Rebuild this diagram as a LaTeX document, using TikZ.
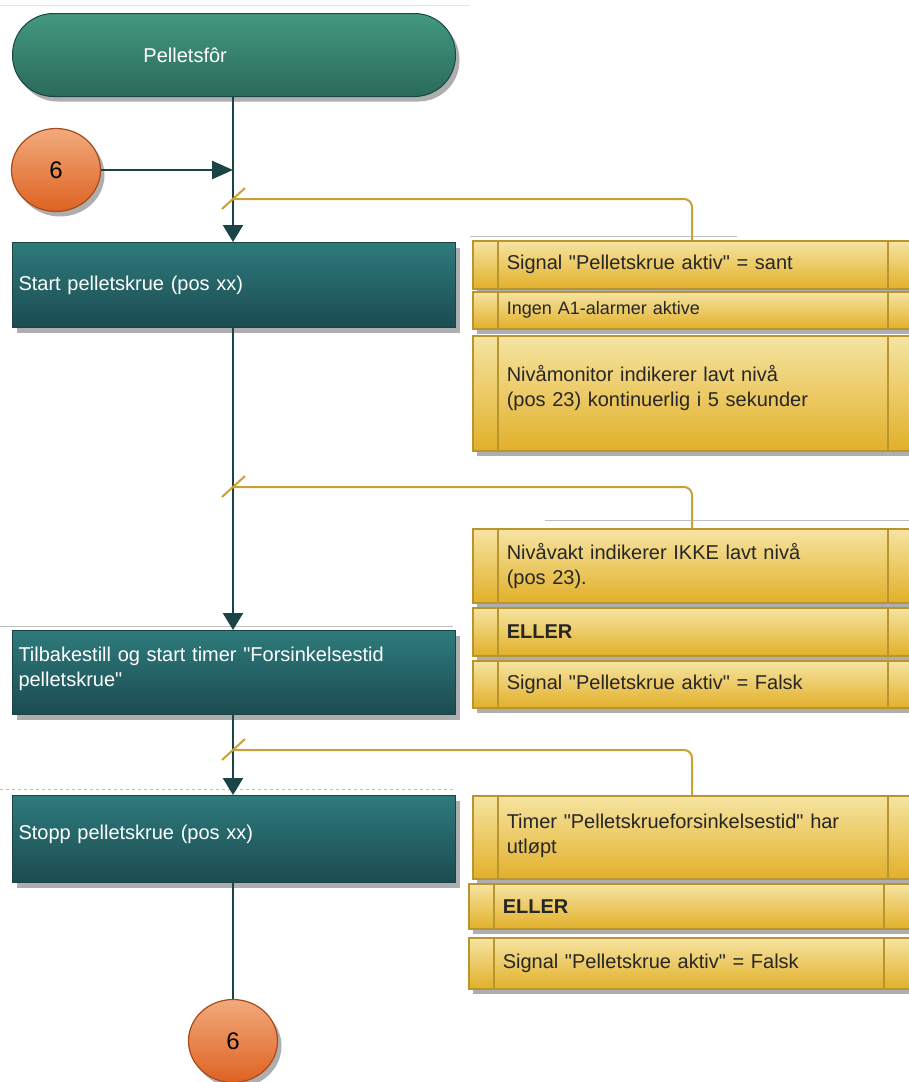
\documentclass[tikz,border=0pt]{standalone}
\usepackage{fontspec}
\setmainfont[Ligatures=TeXOff]{Liberation Sans}
\usetikzlibrary{shadows,arrows.meta,calc,shapes.geometric}
\definecolor{tealT}{HTML}{2E7B7C}
\definecolor{tealB}{HTML}{1B4B51}
\definecolor{greenT}{HTML}{44987F}
\definecolor{greenB}{HTML}{2A6A5C}
\definecolor{orT}{HTML}{F2AA7C}
\definecolor{orB}{HTML}{DE6222}
\definecolor{orD}{HTML}{A84A1C}
\definecolor{yelT}{HTML}{F6E4A2}
\definecolor{yelB}{HTML}{E2B02A}
\definecolor{yelD}{HTML}{B8952E}
\definecolor{lineC}{HTML}{1A4446}
\definecolor{goldL}{HTML}{C9A034}
\begin{document}
\begin{tikzpicture}[x=1pt,y=-1pt,
  shad/.style={drop shadow={shadow xshift=4pt,shadow yshift=-5pt,opacity=0.45,fill=black!70}},
  startbox/.style={draw=lineC,line width=1pt,top color=greenT,bottom color=greenB,text=white,
    rounded corners=41pt,anchor=north west,minimum height=83pt,text width=443pt,inner xsep=0pt,
    align=left,font=\fontsize{20}{25}\selectfont,shad},
  actbox/.style={draw=lineC,line width=1pt,top color=tealT,bottom color=tealB,text=white,
    anchor=north west,text width=431pt,inner xsep=6pt,inner ysep=0pt,align=left,
    font=\fontsize{20}{25}\selectfont,shad},
  conn/.style={ellipse,draw=orD,line width=1.2pt,top color=orT,bottom color=orB,
    minimum width=89pt,minimum height=83pt,font=\fontsize{24}{28}\selectfont,shad},
  yrow/.style={draw=yelD,line width=1.5pt,top color=yelT,bottom color=yelB,anchor=north west,
    text width=380pt,inner xsep=34pt,inner ysep=0pt,align=left,
    font=\fontsize{20}{25}\selectfont,text=black!85,shad},
  ydiv/.style={draw=yelD,line width=1.5pt},
  flow/.style={draw=lineC,line width=2.4pt},
  tipd/.style={-{Triangle[length=17pt,width=20pt]}},
  gline/.style={draw=goldL,line width=2pt,rounded corners=8pt},
  gslash/.style={draw=goldL,line width=2pt},
  faint/.style={draw=black!25,line width=0.8pt}]
\useasboundingbox (0,0) rectangle (909,1082);
\clip (0,0) rectangle (909,1082);
% faint artefact lines
\draw[faint,black!10] (0,5) -- (470,5);
\draw[faint] (470,236) -- (737,236);
\draw[faint] (545,520) -- (909,520);
\draw[faint] (0,626) -- (453,626);
\draw[faint,dashed] (0,789) -- (455,789);
% main shapes
\node[startbox] (pel) at (12,13) {\hspace*{131pt}Pelletsfôr};
\node[conn] (c1) at (56,170) {6};
\node[actbox,minimum height=85pt] (b1) at (12,242) {Start pelletskrue (pos xx)};
\node[actbox,minimum height=84pt,text depth=37pt] (b2) at (12,630) {Tilbakestill og start timer "Forsinkelsestid\\pelletskrue"};
\node[actbox,minimum height=87pt,text depth=14pt] (b3) at (12,795) {Stopp pelletskrue (pos xx)};
\node[conn] (c2) at (233,1041) {6};
% condition panels
\node[yrow,minimum height=48pt] (p1a) at (472,240) {Signal "Pelletskrue aktiv" = sant};
\node[yrow,minimum height=37pt,font=\fontsize{18}{22}\selectfont] (p1b) at (472,291) {Ingen A1-alarmer aktive};
\node[yrow,minimum height=115pt,text depth=39pt] (p1c) at (472,335) {Nivåmonitor indikerer lavt nivå\\(pos 23) kontinuerlig i 5 sekunder};
\node[yrow,minimum height=74pt] (p2a) at (472,528) {Nivåvakt indikerer IKKE lavt nivå\\(pos 23).};
\node[yrow,minimum height=48pt,font=\fontsize{20}{25}\selectfont\bfseries] (p2b) at (472,607) {ELLER};
\node[yrow,minimum height=47pt] (p2c) at (472,660) {Signal "Pelletskrue aktiv" = Falsk};
\node[yrow,minimum height=83pt,text depth=33pt] (p3a) at (472,795) {Timer "Pelletskrueforsinkelsestid" har\\utløpt};
\node[yrow,minimum height=45pt,font=\fontsize{20}{25}\selectfont\bfseries] (p3b) at (468,883) {ELLER};
\node[yrow,minimum height=51pt] (p3c) at (468,937) {Signal "Pelletskrue aktiv" = Falsk};
\foreach \r in {p1a,p1b,p1c,p2a,p2b,p2c,p3a,p3b,p3c}
  \draw[ydiv] ([xshift=26pt]\r.north west) -- ([xshift=26pt]\r.south west)
              ([xshift=416pt]\r.north west) -- ([xshift=416pt]\r.south west);
% junction coordinates
\coordinate (j1) at (233,170);
\coordinate (s1) at (233,199);
\coordinate (t1) at (692,240);
\coordinate (s2) at (233,487);
\coordinate (t2) at (692,528);
\coordinate (s3) at (233,750);
\coordinate (t3) at (692,795);
% flow connectors
\draw[flow,tipd] (pel.south -| j1) -- (b1.north -| j1);
\draw[flow,-{Triangle[length=21pt,width=18pt]}] (c1.east) -- (j1);
\draw[flow,tipd] (b1.south -| j1) -- (b2.north -| j1);
\draw[flow,tipd] (b2.south -| j1) -- (b3.north -| j1);
\draw[flow] (b3.south -| j1) -- (c2.north);
% transition links
\foreach \s/\t in {s1/t1,s2/t2,s3/t3}{
  \draw[gline] (\s) -| (\t);
  \draw[gslash] ($(\s)+(-11,10)$) -- ($(\s)+(12,-11)$);
}
\end{tikzpicture}
\end{document}
